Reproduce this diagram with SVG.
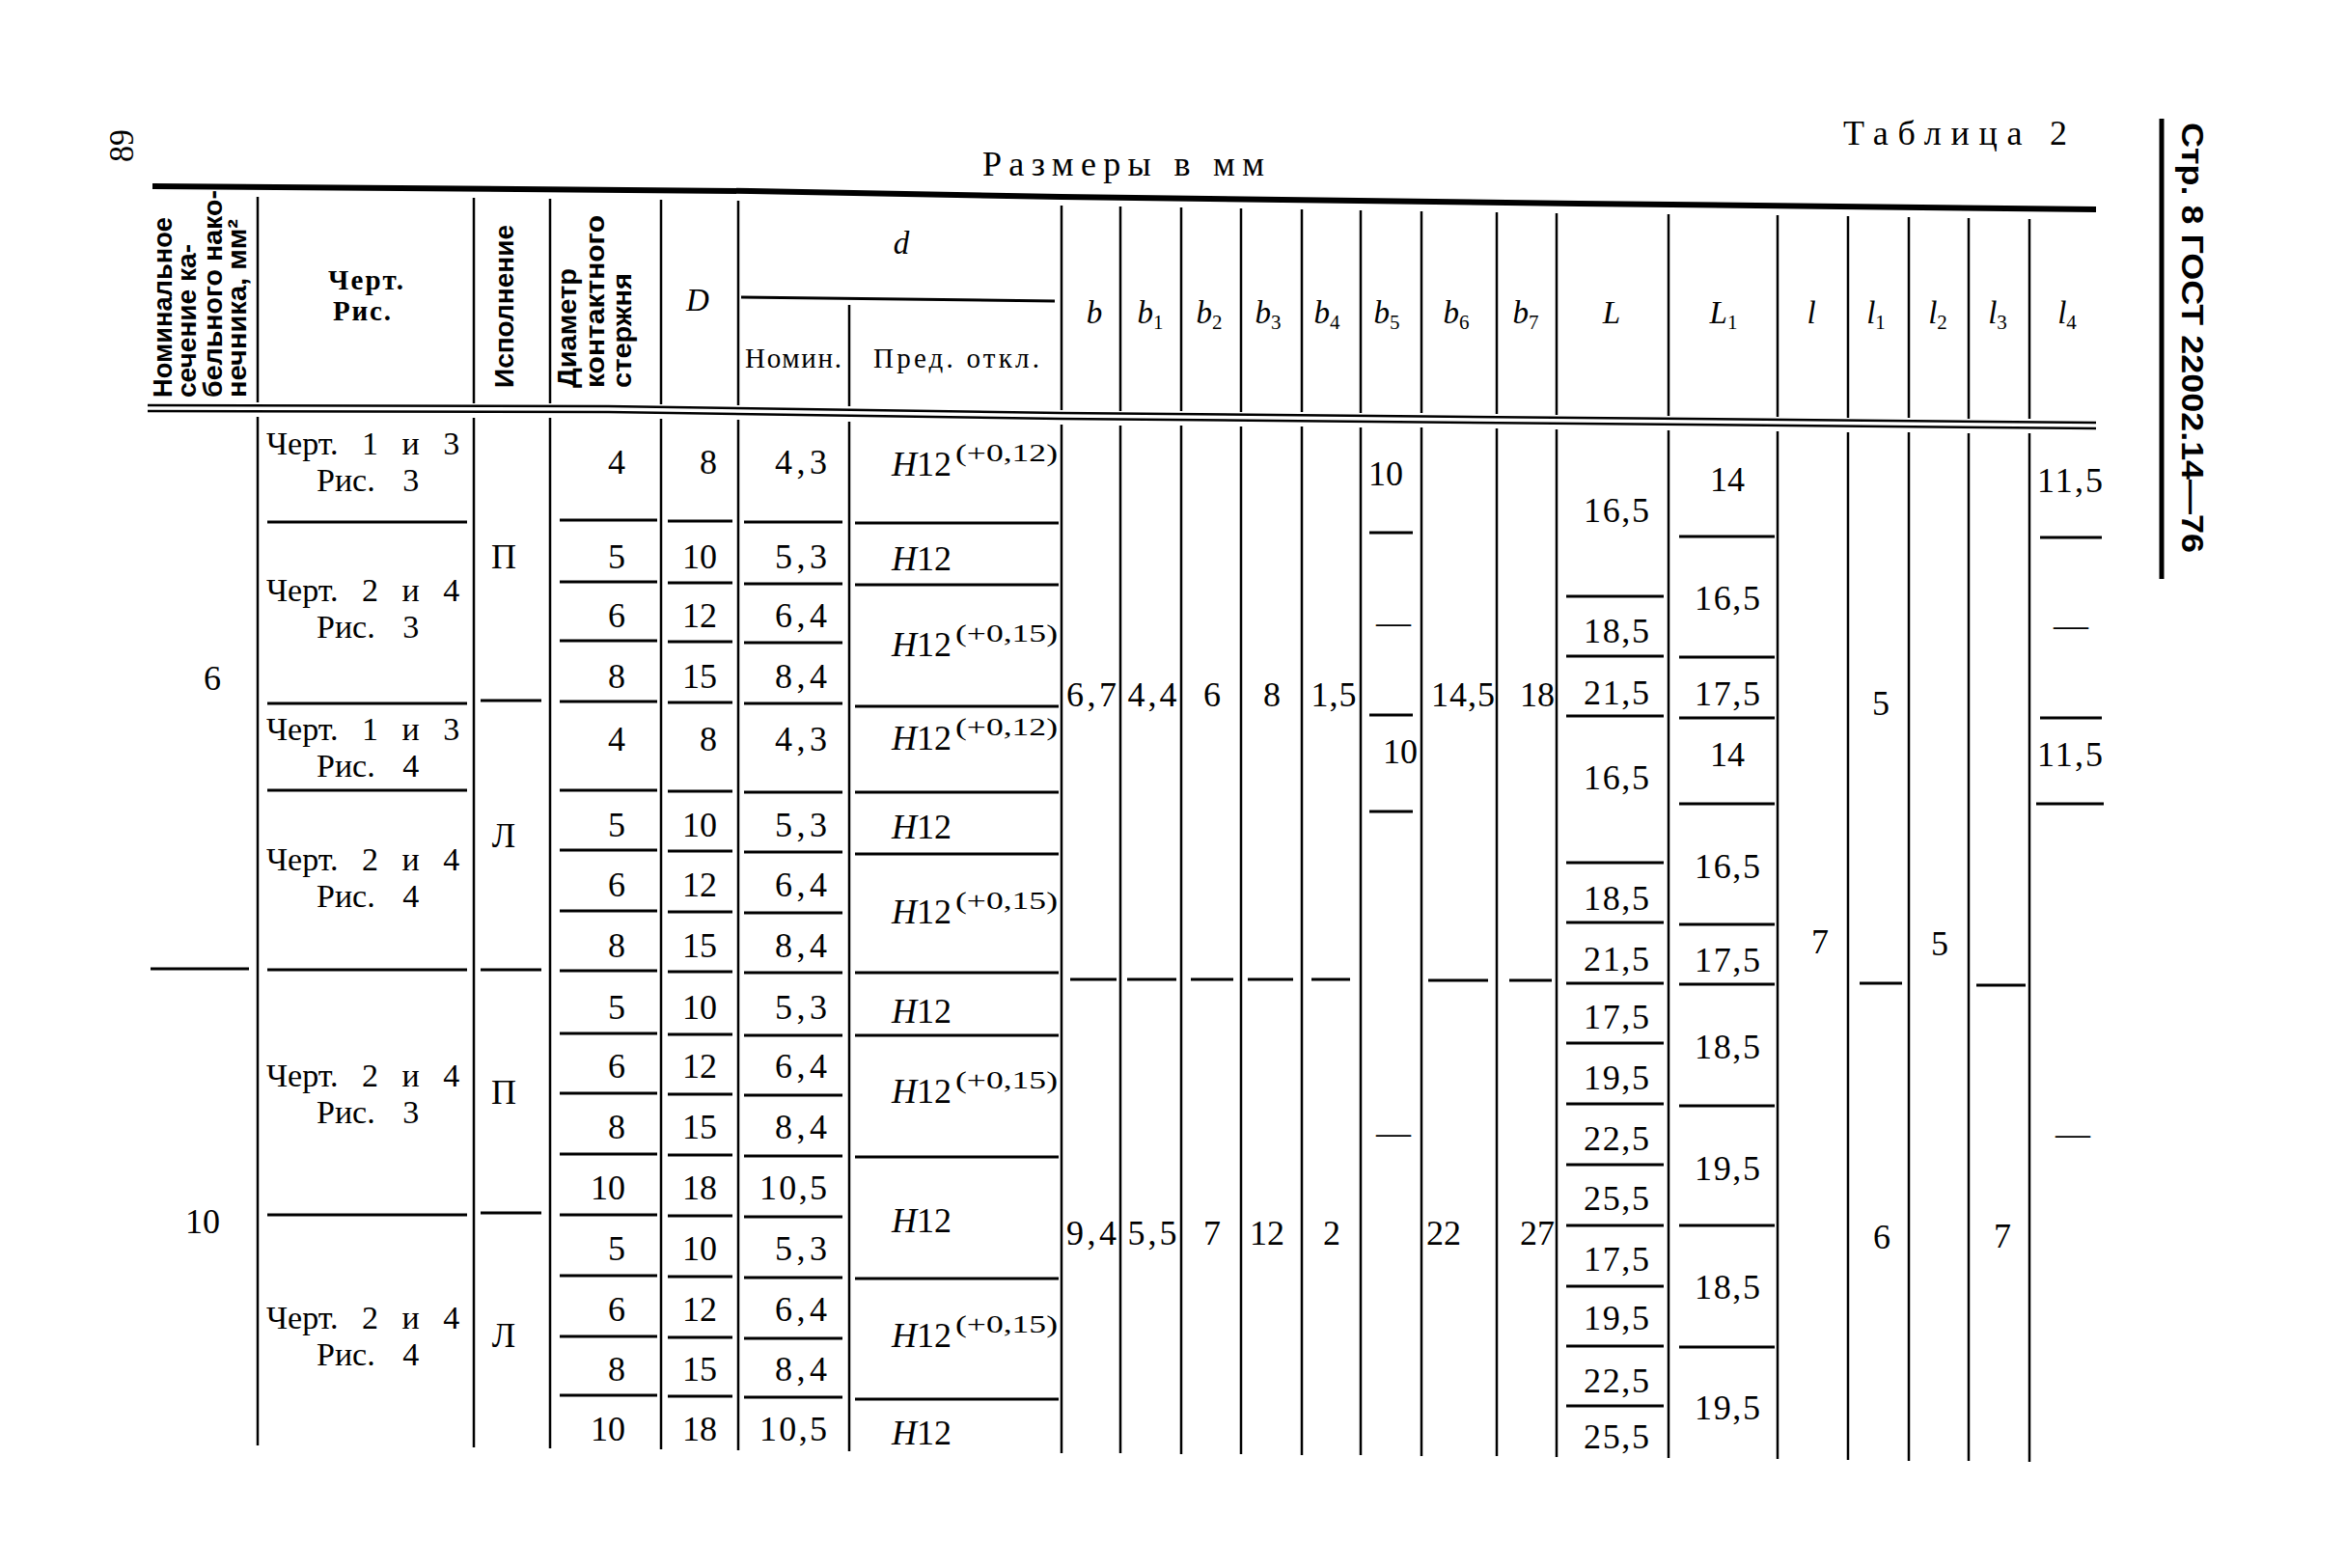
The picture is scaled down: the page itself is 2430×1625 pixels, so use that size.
<svg xmlns="http://www.w3.org/2000/svg" width="2430" height="1625" viewBox="0 0 2430 1625">
<style>
.r{stroke:#000;stroke-width:3;fill:none}
.v{stroke:#000;stroke-width:2.5;fill:none}
.tk{stroke:#000;stroke-width:6;fill:none}
text{font-family:"Liberation Serif","Times New Roman",serif;font-size:36px;fill:#000}
.m{text-anchor:middle}
.e{text-anchor:end}
.i{font-style:italic}
.hs{font-family:"Liberation Sans",Arial,sans-serif;font-weight:bold;font-size:27px}
.hr{font-size:29px}
.hb{font-size:29px;font-weight:bold}
.sup{font-size:26px}
.sub{font-size:21px;font-style:normal}
.lb{font-size:33px;font-style:italic}
.ch{font-size:34px;word-spacing:16px}
.rs{font-size:34px;word-spacing:20px}
.pg{font-family:"Liberation Sans",Arial,sans-serif;font-weight:bold;font-size:31px}
</style>
<rect width="2430" height="1625" fill="#fff"/>

<g id="page-marks">
<text transform="translate(138,168) rotate(-90)" font-size="40" textLength="34" lengthAdjust="spacingAndGlyphs">89</text>
<path class="v" d="M2240 123V600" style="stroke-width:5"/>
<text class="pg" transform="translate(2261,127) rotate(90)" textLength="446" lengthAdjust="spacingAndGlyphs">Стр. 8 ГОСТ 22002.14—76</text>
</g>

<g id="title">
<text x="1910" y="150" textLength="232">Таблица 2</text>
<text x="1018" y="182" textLength="292">Размеры в мм</text>
</g>

<g id="rules">
<polyline class="tk" points="158,193 778,198 1100,204 1636,211 2172,217"/>
<polyline class="v" points="153,420 630,421 1100,428 2172,438"/>
<polyline class="v" points="153,426 630,427 1100,434 2172,444"/>
<path class="r" d="M768 308L1093 312"/>
<path class="v" d="M267 204V417M491 205V418M570 206V418M685 207V419M765 208V420M880 316V421M1100 213V425M1161 214V426M1224 215V426M1286 216V427M1349 217V427M1410 218V428M1473 219V428M1551 220V429M1613 221V430M1729 222V431M1842 223V432M1915 224V433M1978 225V433M2040 226V434M2103 227V434"/>
<path class="v" d="M267 432V1498M491 433V1500M570 433V1501M685 434V1502M765 435V1503M880 437V1504M1100 440V1506M1161 441V1506M1224 441V1507M1286 442V1507M1349 442V1508M1410 443V1508M1473 443V1509M1551 444V1509M1613 445V1510M1729 446V1511M1842 447V1512M1915 448V1513M1978 448V1514M2040 449V1514M2103 449V1515"/>
<path class="r" d="M156 1004H258
M277 541H484M277 729H484M277 819H484M277 1005H484M277 1259H484
M498 726H561M498 1005H561M498 1257H561
M580 539H681M580 603H681M580 664H681M580 727H681M580 819H681M580 881H681M580 944H681M580 1006H681M580 1071H681M580 1133H681M580 1196H681M580 1259H681M580 1322H681M580 1385H681M580 1446H681
M692 540H759M692 604H759M692 665H759M692 728H759M692 820H759M692 882H759M692 945H759M692 1007H759M692 1072H759M692 1134H759M692 1197H759M692 1260H759M692 1323H759M692 1386H759M692 1447H759
M771 541H873M771 605H873M771 666H873M771 729H873M771 821H873M771 883H873M771 946H873M771 1008H873M771 1073H873M771 1135H873M771 1198H873M771 1261H873M771 1324H873M771 1387H873M771 1448H873
M886 542H1097M886 606H1097M886 732H1097M886 821H1097M886 885H1097M886 1008H1097M886 1073H1097M886 1199H1097M886 1325H1097M886 1450H1097
M1109 1015H1157M1168 1015H1219M1234 1015H1278M1293 1015H1340M1359 1015H1399
M1419 552H1464M1419 741H1464M1419 841H1464
M1480 1016H1542M1564 1016H1608
M1623 618H1724M1623 680H1724M1623 742H1724M1623 894H1724M1623 956H1724M1623 1019H1724M1623 1081H1724M1623 1144H1724M1623 1207H1724M1623 1270H1724M1623 1333H1724M1623 1395H1724M1623 1457H1724
M1740 556H1839M1740 681H1839M1740 744H1839M1740 833H1839M1740 958H1839M1740 1020H1839M1740 1146H1839M1740 1270H1839M1740 1396H1839
M1927 1019H1971M2048 1021H2099
M2114 557H2178M2114 744H2178M2110 833H2180"/>
</g>

<g id="header">
<g id="h-section">
<text class="hs" transform="translate(178,412) rotate(-90)" textLength="187" lengthAdjust="spacingAndGlyphs">Номинальное</text>
<text class="hs" transform="translate(203,412) rotate(-90)" textLength="159" lengthAdjust="spacingAndGlyphs">сечение ка-</text>
<text class="hs" transform="translate(230,412) rotate(-90)" textLength="215" lengthAdjust="spacingAndGlyphs">бельного нако-</text>
<text class="hs" transform="translate(255,412) rotate(-90)" textLength="185" lengthAdjust="spacingAndGlyphs">нечника, мм²</text>
</g>
<g id="h-drawing">
<text class="hb m" x="379" y="300" textLength="78">Черт.</text>
<text class="hb m" x="375" y="332" textLength="60">Рис.</text>
</g>
<g id="h-version">
<text class="hs" transform="translate(532,402) rotate(-90)" textLength="169" lengthAdjust="spacingAndGlyphs">Исполнение</text>
</g>
<g id="h-diameter">
<text class="hs" transform="translate(597,402) rotate(-90)" textLength="124" lengthAdjust="spacingAndGlyphs">Диаметр</text>
<text class="hs" transform="translate(626,402) rotate(-90)" textLength="179" lengthAdjust="spacingAndGlyphs">контактного</text>
<text class="hs" transform="translate(654,402) rotate(-90)" textLength="119" lengthAdjust="spacingAndGlyphs">стержня</text>
</g>
<g id="h-D"><text class="lb m" x="723" y="322">D</text></g>
<g id="h-d">
<text class="lb m" x="934" y="263">d</text>
<text class="hr m" x="822" y="381" textLength="100">Номин.</text>
<text class="hr m" x="991" y="381" textLength="172">Пред. откл.</text>
</g>
<g id="h-dims">
<text class="lb m" x="1134" y="335">b</text>
<text class="lb m" x="1192" y="335">b<tspan class="sub" dy="6">1</tspan></text>
<text class="lb m" x="1253" y="335">b<tspan class="sub" dy="6">2</tspan></text>
<text class="lb m" x="1314" y="335">b<tspan class="sub" dy="6">3</tspan></text>
<text class="lb m" x="1375" y="335">b<tspan class="sub" dy="6">4</tspan></text>
<text class="lb m" x="1437" y="335">b<tspan class="sub" dy="6">5</tspan></text>
<text class="lb m" x="1509" y="335">b<tspan class="sub" dy="6">6</tspan></text>
<text class="lb m" x="1581" y="335">b<tspan class="sub" dy="6">7</tspan></text>
<text class="lb m" x="1670" y="335">L</text>
<text class="lb m" x="1786" y="335">L<tspan class="sub" dy="6">1</tspan></text>
<text class="lb m" x="1877" y="335">l</text>
<text class="lb m" x="1944" y="335">l<tspan class="sub" dy="6">1</tspan></text>
<text class="lb m" x="2008" y="335">l<tspan class="sub" dy="6">2</tspan></text>
<text class="lb m" x="2070" y="335">l<tspan class="sub" dy="6">3</tspan></text>
<text class="lb m" x="2142" y="335">l<tspan class="sub" dy="6">4</tspan></text>
</g>
</g>

<g id="c-section">
<text class="m" x="220" y="715">6</text>
<text class="m" x="210" y="1278">10</text>
</g>

<g id="c-drawing">
<text class="ch" x="276" y="471">Черт. 1 и 3</text><text class="rs" x="328" y="509">Рис. 3</text>
<text class="ch" x="276" y="623">Черт. 2 и 4</text><text class="rs" x="328" y="661">Рис. 3</text>
<text class="ch" x="276" y="767">Черт. 1 и 3</text><text class="rs" x="328" y="805">Рис. 4</text>
<text class="ch" x="276" y="902">Черт. 2 и 4</text><text class="rs" x="328" y="940">Рис. 4</text>
<text class="ch" x="276" y="1126">Черт. 2 и 4</text><text class="rs" x="328" y="1164">Рис. 3</text>
<text class="ch" x="276" y="1377">Черт. 2 и 4</text><text class="rs" x="328" y="1415">Рис. 4</text>
</g>

<g id="c-version">
<text class="m" x="522" y="589">П</text>
<text class="m" x="522" y="878">Л</text>
<text class="m" x="522" y="1144">П</text>
<text class="m" x="522" y="1396">Л</text>
</g>

<g id="c-diameter">
<text class="e" x="648" y="491">4</text><text class="e" x="648" y="589">5</text><text class="e" x="648" y="650">6</text><text class="e" x="648" y="713">8</text>
<text class="e" x="648" y="778">4</text><text class="e" x="648" y="867">5</text><text class="e" x="648" y="929">6</text><text class="e" x="648" y="992">8</text>
<text class="e" x="648" y="1056">5</text><text class="e" x="648" y="1117">6</text><text class="e" x="648" y="1180">8</text><text class="e" x="648" y="1243">10</text>
<text class="e" x="648" y="1306">5</text><text class="e" x="648" y="1369">6</text><text class="e" x="648" y="1431">8</text><text class="e" x="648" y="1493">10</text>
</g>

<g id="c-D">
<text class="e" x="743" y="491">8</text><text class="e" x="743" y="589">10</text><text class="e" x="743" y="650">12</text><text class="e" x="743" y="713">15</text>
<text class="e" x="743" y="778">8</text><text class="e" x="743" y="867">10</text><text class="e" x="743" y="929">12</text><text class="e" x="743" y="992">15</text>
<text class="e" x="743" y="1056">10</text><text class="e" x="743" y="1117">12</text><text class="e" x="743" y="1180">15</text><text class="e" x="743" y="1243">18</text>
<text class="e" x="743" y="1306">10</text><text class="e" x="743" y="1369">12</text><text class="e" x="743" y="1431">15</text><text class="e" x="743" y="1493">18</text>
</g>

<g id="c-d-nom">
<text class="e" x="857" y="491" textLength="54">4,3</text><text class="e" x="857" y="589" textLength="54">5,3</text><text class="e" x="857" y="650" textLength="54">6,4</text><text class="e" x="857" y="713" textLength="54">8,4</text>
<text class="e" x="857" y="778" textLength="54">4,3</text><text class="e" x="857" y="867" textLength="54">5,3</text><text class="e" x="857" y="929" textLength="54">6,4</text><text class="e" x="857" y="992" textLength="54">8,4</text>
<text class="e" x="857" y="1056" textLength="54">5,3</text><text class="e" x="857" y="1117" textLength="54">6,4</text><text class="e" x="857" y="1180" textLength="54">8,4</text><text class="e" x="857" y="1243" textLength="70">10,5</text>
<text class="e" x="857" y="1306" textLength="54">5,3</text><text class="e" x="857" y="1369" textLength="54">6,4</text><text class="e" x="857" y="1431" textLength="54">8,4</text><text class="e" x="857" y="1493" textLength="70">10,5</text>
</g>

<g id="c-d-tol">
<text x="924" y="493"><tspan class="i">H</tspan>12</text><text class="sup" x="990" y="478" textLength="106" lengthAdjust="spacingAndGlyphs">(+0,12)</text>
<text x="924" y="591"><tspan class="i">H</tspan>12</text>
<text x="924" y="680"><tspan class="i">H</tspan>12</text><text class="sup" x="990" y="665" textLength="106" lengthAdjust="spacingAndGlyphs">(+0,15)</text>
<text x="924" y="777"><tspan class="i">H</tspan>12</text><text class="sup" x="990" y="762" textLength="106" lengthAdjust="spacingAndGlyphs">(+0,12)</text>
<text x="924" y="869"><tspan class="i">H</tspan>12</text>
<text x="924" y="957"><tspan class="i">H</tspan>12</text><text class="sup" x="990" y="942" textLength="106" lengthAdjust="spacingAndGlyphs">(+0,15)</text>
<text x="924" y="1060"><tspan class="i">H</tspan>12</text>
<text x="924" y="1143"><tspan class="i">H</tspan>12</text><text class="sup" x="990" y="1128" textLength="106" lengthAdjust="spacingAndGlyphs">(+0,15)</text>
<text x="924" y="1277"><tspan class="i">H</tspan>12</text>
<text x="924" y="1396"><tspan class="i">H</tspan>12</text><text class="sup" x="990" y="1381" textLength="106" lengthAdjust="spacingAndGlyphs">(+0,15)</text>
<text x="924" y="1497"><tspan class="i">H</tspan>12</text>
</g>

<g id="c-b">
<text class="m" x="1131" y="732" textLength="52">6,7</text>
<text class="m" x="1131" y="1290" textLength="52">9,4</text>
</g>
<g id="c-b1">
<text class="m" x="1194" y="732" textLength="51">4,4</text>
<text class="m" x="1194" y="1290" textLength="51">5,5</text>
</g>
<g id="c-b2">
<text class="m" x="1256" y="732">6</text>
<text class="m" x="1256" y="1290">7</text>
</g>
<g id="c-b3">
<text class="m" x="1318" y="732">8</text>
<text class="m" x="1313" y="1290">12</text>
</g>
<g id="c-b4">
<text class="m" x="1382" y="732" textLength="47">1,5</text>
<text class="m" x="1380" y="1290">2</text>
</g>
<g id="c-b5">
<text x="1418" y="503">10</text>
<text class="m" x="1444" y="657">—</text>
<text class="e" x="1469" y="791">10</text>
<text class="m" x="1444" y="1186">—</text>
</g>
<g id="c-b6">
<text class="m" x="1516" y="732" textLength="66">14,5</text>
<text class="m" x="1496" y="1290">22</text>
</g>
<g id="c-b7">
<text class="m" x="1593" y="732">18</text>
<text class="m" x="1593" y="1290">27</text>
</g>
<g id="c-L">
<text class="m" x="1675" y="541" textLength="68">16,5</text>
<text class="m" x="1675" y="666" textLength="68">18,5</text>
<text class="m" x="1675" y="730" textLength="68">21,5</text>
<text class="m" x="1675" y="818" textLength="68">16,5</text>
<text class="m" x="1675" y="943" textLength="68">18,5</text>
<text class="m" x="1675" y="1006" textLength="68">21,5</text>
<text class="m" x="1675" y="1066" textLength="68">17,5</text>
<text class="m" x="1675" y="1129" textLength="68">19,5</text>
<text class="m" x="1675" y="1192" textLength="68">22,5</text>
<text class="m" x="1675" y="1254" textLength="68">25,5</text>
<text class="m" x="1675" y="1317" textLength="68">17,5</text>
<text class="m" x="1675" y="1378" textLength="68">19,5</text>
<text class="m" x="1675" y="1443" textLength="68">22,5</text>
<text class="m" x="1675" y="1501" textLength="68">25,5</text>
</g>
<g id="c-L1">
<text class="m" x="1790" y="509">14</text>
<text class="m" x="1790" y="632" textLength="68">16,5</text>
<text class="m" x="1790" y="731" textLength="68">17,5</text>
<text class="m" x="1790" y="794">14</text>
<text class="m" x="1790" y="910" textLength="68">16,5</text>
<text class="m" x="1790" y="1007" textLength="68">17,5</text>
<text class="m" x="1790" y="1097" textLength="68">18,5</text>
<text class="m" x="1790" y="1223" textLength="68">19,5</text>
<text class="m" x="1790" y="1346" textLength="68">18,5</text>
<text class="m" x="1790" y="1471" textLength="68">19,5</text>
</g>
<g id="c-l"><text class="m" x="1886" y="988">7</text></g>
<g id="c-l1">
<text class="m" x="1949" y="741">5</text>
<text class="m" x="1950" y="1294">6</text>
</g>
<g id="c-l2"><text class="m" x="2010" y="990">5</text></g>
<g id="c-l3"><text class="m" x="2075" y="1293">7</text></g>
<g id="c-l4">
<text class="m" x="2145" y="510" textLength="68">11,5</text>
<text class="m" x="2146" y="660">—</text>
<text class="m" x="2145" y="794" textLength="68">11,5</text>
<text class="m" x="2148" y="1187">—</text>
</g>
</svg>
